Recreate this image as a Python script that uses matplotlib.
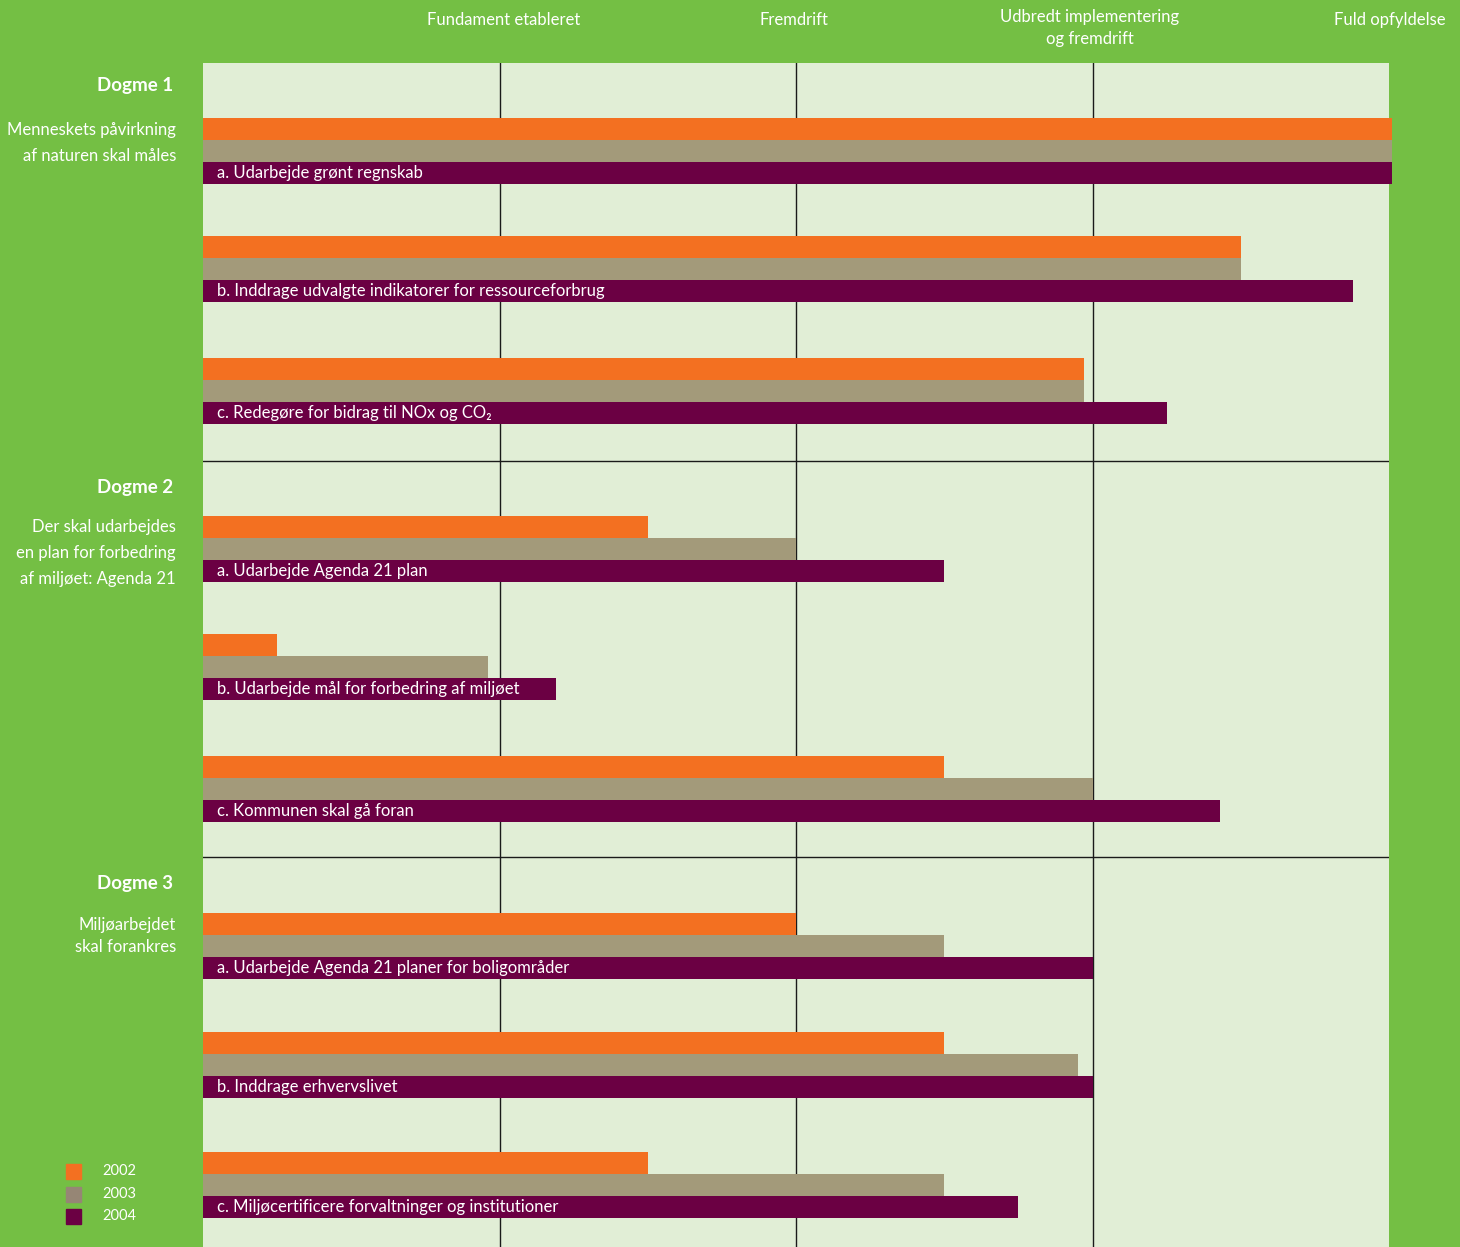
import matplotlib
matplotlib.use("Agg")
import matplotlib.pyplot as plt
from matplotlib.patches import Rectangle

plt.rcParams['font.family'] = ['Lato', 'DejaVu Sans']

# ---- data ----
stage_labels = ["Fundament etableret", "Fremdrift", "Udbredt implementering\nog fremdrift", "Fuld opfyldelse"]
stage_values = [1, 2, 3, 4]

bar_labels = [
    "a. Udarbejde grønt regnskab",
    "b. Inddrage udvalgte indikatorer for ressourceforbrug",
    "c. Redegøre for bidrag til NOx og CO₂",
    "a. Udarbejde Agenda 21 plan",
    "b. Udarbejde mål for forbedring af miljøet",
    "c. Kommunen skal gå foran",
    "a. Udarbejde Agenda 21 planer for boligområder",
    "b. Inddrage erhvervslivet",
    "c. Miljøcertificere forvaltninger og institutioner",
]
v2002 = [4.01, 3.50, 2.97, 1.50, 0.25, 2.50, 2.00, 2.50, 1.50]
v2003 = [4.01, 3.50, 2.97, 2.00, 0.96, 3.00, 2.50, 2.95, 2.50]
v2004 = [4.01, 3.88, 3.25, 2.50, 1.19, 3.43, 3.00, 3.00, 2.75]

years = ["2002", "2003", "2004"]

dogme_titles = ["Dogme 1", "Dogme 2", "Dogme 3"]
dogme_texts = [
    ["Menneskets påvirkning", "af naturen skal måles"],
    ["Der skal udarbejdes", "en plan for forbedring", "af miljøet: Agenda 21"],
    ["Miljøarbejdet", "skal forankres"],
]

# ---- layout / style ----
W, H = 1460, 1247
GREEN = "#74bf44"
PLOT_BG = "#e1eed6"
C2002 = "#f37021"
C2003 = "#a39a7a"
C2004 = "#6b0043"
LEG2003 = "#968675"

# gray-bar centre positions (pixel rows) used as y coordinates
group_y = [151, 269, 391, 549, 667, 789, 946, 1065, 1185]
bar_h = 22
sep_y = [461, 857]
dogme_title_y = [86, 487, 884]
dogme_text_y = [[130, 156], [527, 553, 579], [925, 947]]

fig = plt.figure(figsize=(W / 100, H / 100), dpi=100)
fig.patch.set_facecolor(GREEN)

x0, x1, ytop = 203, 1389, 63
ax = fig.add_axes([x0 / W, 0, (x1 - x0) / W, (H - ytop) / H])
ax.set_facecolor(PLOT_BG)
ax.set_xlim(0, 4)
ax.set_ylim(H, ytop)
for s in ax.spines.values():
    s.set_visible(False)
ax.set_xticks([])
ax.set_yticks([])

for xv in stage_values[:-1]:
    ax.axvline(xv, color="#1a1a1a", lw=1.0, zorder=1)
for sy in sep_y:
    ax.axhline(sy, color="#1a1a1a", lw=1.0, zorder=1)

for i, yc in enumerate(group_y):
    ax.barh(yc - bar_h, v2002[i], height=bar_h, color=C2002, zorder=2, clip_on=False)
    ax.barh(yc, v2003[i], height=bar_h, color=C2003, zorder=2, clip_on=False)
    ax.barh(yc + bar_h, v2004[i], height=bar_h, color=C2004, zorder=3, clip_on=False)
    ax.text(0.048, yc + bar_h, bar_labels[i], color="white", fontsize=12,
            va="center", ha="left", zorder=4)

def fx(x):
    return x / W

def fy(y):
    return 1 - y / H

# header stage labels
xpix = lambda v: x0 + v * (x1 - x0) / 4
header_y = [20, 20, 28, 20]
header_dx = [4, -2, -3, 1]
for lab, v, hy, dx in zip(stage_labels, stage_values, header_y, header_dx):
    fig.text(fx(xpix(v) + dx), fy(hy), lab, color="white", fontsize=12,
             ha="center", va="center", linespacing=1.4)

# dogme labels
for t, ty, lines, lys in zip(dogme_titles, dogme_title_y, dogme_texts, dogme_text_y):
    fig.text(fx(173), fy(ty), t, color="white", fontsize=13.5, fontweight="bold",
             ha="right", va="center")
    for ln, ly in zip(lines, lys):
        fig.text(fx(176), fy(ly), ln, color="white", fontsize=12,
                 ha="right", va="center")

# legend
leg_cols = [C2002, LEG2003, C2004]
leg_y = [1171, 1194, 1216]
for yr, c, ly in zip(years, leg_cols, leg_y):
    fig.patches.append(Rectangle((fx(66), fy(ly + 8)), 15 / W, 15 / H,
                                 transform=fig.transFigure, color=c, figure=fig))
    fig.text(fx(102), fy(ly), yr, color="white", fontsize=10.5, ha="left", va="center")

fig.savefig("out.png", dpi=100, facecolor=GREEN)
